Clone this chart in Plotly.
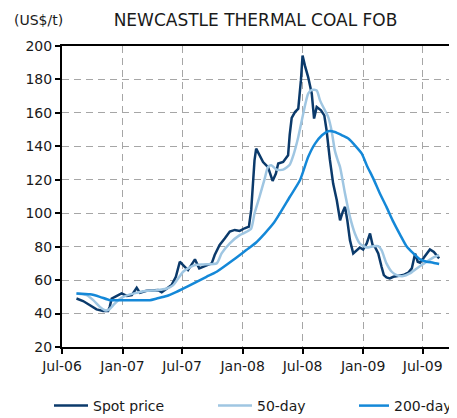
import plotly.graph_objects as go

# values (US$/t)
spot_dates = ['2006-08-14', '2006-09-03', '2006-09-24', '2006-10-14', '2006-11-03', '2006-11-18',
              '2006-11-23', '2006-11-29', '2006-12-09', '2006-12-29', '2007-01-14', '2007-01-29',
              '2007-02-13', '2007-02-23', '2007-03-15', '2007-04-04', '2007-04-19', '2007-04-30',
              '2007-05-15', '2007-05-30', '2007-06-12', '2007-06-24', '2007-07-04', '2007-07-19',
              '2007-08-09', '2007-08-22', '2007-09-08', '2007-09-29', '2007-10-08', '2007-10-23',
              '2007-11-08', '2007-11-23', '2007-12-08', '2007-12-23', '2008-01-07', '2008-01-20',
              '2008-01-27', '2008-02-06', '2008-02-11', '2008-02-21', '2008-03-03', '2008-03-18',
              '2008-04-01', '2008-04-11', '2008-04-18', '2008-05-03', '2008-05-18', '2008-05-23',
              '2008-05-29', '2008-06-08', '2008-06-18', '2008-06-26', '2008-07-01', '2008-07-08',
              '2008-07-18', '2008-07-29', '2008-08-05', '2008-08-13', '2008-08-26', '2008-09-05',
              '2008-09-12', '2008-09-22', '2008-10-02', '2008-10-13', '2008-10-23', '2008-10-31',
              '2008-11-07', '2008-11-14', '2008-11-22', '2008-12-02', '2008-12-12', '2008-12-22',
              '2009-01-01', '2009-01-12', '2009-01-22', '2009-01-30', '2009-02-06', '2009-02-16',
              '2009-02-26', '2009-03-05', '2009-03-13', '2009-03-23', '2009-04-03', '2009-04-18',
              '2009-05-03', '2009-05-18', '2009-05-29', '2009-06-08', '2009-06-16', '2009-06-23',
              '2009-07-03', '2009-07-13', '2009-07-23', '2009-08-04', '2009-08-13', '2009-08-20']
spot_price = [49, 47.5, 45, 42.5, 41.5, 41.5,
              44, 49, 50, 52, 50.5, 51,
              55.4, 52.4, 53.6, 54, 54, 52.7,
              55, 57, 62, 71, 69, 66,
              72.4, 67, 68.4, 70, 75, 81,
              85, 89, 90, 89.4, 91, 92,
              102, 131.6, 138.6, 134.6, 130.6, 127.6,
              119.3, 123.7, 129.7, 130.6, 134.6, 147,
              157, 160.5, 162.5, 179.4, 194.3, 188.4,
              181.4, 171.5, 156.6, 163.5, 161.5, 158.5,
              149.6, 132, 117.7, 107.8, 95.8, 100.8,
              103.8, 95.8, 83.9, 75.9, 77.9, 79.5,
              78.3, 81.9, 87.9, 80.9, 79.9, 75.9,
              68, 63, 61.6, 61, 62, 62.4,
              63, 64.4, 67, 75.9, 71, 70.4,
              73, 75.9, 78.3, 76.9, 74.9, 73]

ma50_dates = ['2006-08-14', '2006-09-14', '2006-10-04', '2006-10-24', '2006-11-08', '2006-11-18',
              '2006-12-04', '2006-12-19', '2007-01-03', '2007-01-24', '2007-02-13', '2007-03-15',
              '2007-04-15', '2007-05-15', '2007-06-04', '2007-06-19', '2007-07-04', '2007-07-19',
              '2007-08-09', '2007-09-03', '2007-10-14', '2007-10-29', '2007-11-23', '2007-12-23',
              '2008-01-12', '2008-01-27', '2008-02-06', '2008-02-21', '2008-03-08', '2008-03-18',
              '2008-03-28', '2008-04-13', '2008-05-03', '2008-05-23', '2008-06-03', '2008-06-18',
              '2008-07-03', '2008-07-18', '2008-07-29', '2008-08-13', '2008-08-23', '2008-09-07',
              '2008-09-17', '2008-09-27', '2008-10-07', '2008-10-16', '2008-10-23', '2008-11-07',
              '2008-11-22', '2008-12-07', '2008-12-22', '2009-01-12', '2009-02-01', '2009-02-16',
              '2009-02-26', '2009-03-13', '2009-03-29', '2009-04-13', '2009-05-03', '2009-05-23',
              '2009-06-13', '2009-06-28', '2009-07-13', '2009-08-02', '2009-08-20']
ma50_values = [52, 51, 48, 44, 42, 42,
               45, 48, 50, 51.5, 52.4, 53.6,
               54, 55, 57, 61, 65, 67,
               69, 69.4, 70, 76, 82, 86.9,
               88.8, 90.9, 99.8, 109.7, 120.7, 127.6,
               128.7, 126.1, 126.1, 129, 134.6, 145.6,
               159.5, 171.5, 173.8, 173.4, 167.5, 161.5,
               157.5, 149.6, 137.6, 131.6, 127.6, 111.8,
               97.8, 87.9, 81.9, 79.5, 80.3, 80.3,
               77.9, 70, 65, 63, 62.4, 64,
               67, 69, 71, 73.5, 74.9]

ma200_dates = ['2006-08-14', '2006-09-24', '2006-10-24', '2006-11-24', '2006-12-24', '2007-02-13',
               '2007-03-25', '2007-04-15', '2007-05-15', '2007-06-14', '2007-07-15', '2007-08-14',
               '2007-09-13', '2007-10-14', '2007-12-03', '2008-01-12', '2008-02-11', '2008-04-03',
               '2008-05-23', '2008-06-23', '2008-07-18', '2008-08-08', '2008-08-29', '2008-09-17',
               '2008-10-07', '2008-10-29', '2008-11-18', '2008-12-07', '2008-12-28', '2009-01-12',
               '2009-02-01', '2009-02-21', '2009-03-13', '2009-04-03', '2009-04-24', '2009-05-14',
               '2009-06-03', '2009-06-23', '2009-07-13', '2009-08-02', '2009-08-20']
ma200_values = [52, 51.5, 50, 48, 48, 48,
                48, 49, 50.5, 53, 56, 59,
                62, 65, 72, 78, 82.5, 93.8,
                109.7, 119.7, 133.6, 141.6, 146.6, 149,
                148.6, 146.6, 144.6, 140.6, 135.6, 128.7,
                120.7, 111.8, 103.8, 94.8, 86.9, 79.9,
                75.9, 72.4, 71, 70.4, 69.6]

tick_dates = ['2006-07-01', '2007-01-01', '2007-07-01', '2008-01-01', '2008-07-01', '2009-01-01', '2009-07-01']
tick_labels = ['Jul-06', 'Jan-07', 'Jul-07', 'Jan-08', 'Jul-08', 'Jan-09', 'Jul-09']

font = 'DejaVu Sans'
text_color = '#1a1a1a'

# the page body has an 8px margin, so the figure is drawn 8px smaller
W, H = 449, 410

fig = go.Figure()
fig.add_trace(go.Scatter(x=spot_dates, y=spot_price, name='Spot price', mode='lines',
                         line=dict(color='#0b3a6b', width=2.5), legend='legend'))
fig.add_trace(go.Scatter(x=ma50_dates, y=ma50_values, name='50-day', mode='lines',
                         line=dict(color='#9fc6e2', width=2.5, shape='spline', smoothing=0.6),
                         legend='legend2'))
fig.add_trace(go.Scatter(x=ma200_dates, y=ma200_values, name='200-day', mode='lines',
                         line=dict(color='#1488d8', width=2.5, shape='spline', smoothing=0.6),
                         legend='legend3'))

# one legend per entry so each can sit where the reference has it
legend_style = dict(orientation='h', xref='container', yref='container', yanchor='middle',
                    y=1 - 398 / H, xanchor='left', borderwidth=0,
                    font=dict(family=font, size=14, color=text_color), bgcolor='rgba(0,0,0,0)')

fig.update_layout(
    width=W, height=H,
    margin=dict(l=54, r=8, t=38, b=71, autoexpand=False),
    paper_bgcolor='white', plot_bgcolor='white',
    showlegend=True,
    font=dict(family=font, size=14, color=text_color),
    title=dict(text='NEWCASTLE THERMAL COAL FOB', font=dict(family=font, size=17, color=text_color),
               xref='paper', x=0.5, xanchor='center', yref='container', y=1 - 12 / H, yanchor='middle'),
    legend=dict(legend_style, x=41 / W, itemwidth=34),
    legend2=dict(legend_style, x=205 / W, itemwidth=34),
    legend3=dict(legend_style, x=346 / W),
    annotations=[dict(text='(US$/t)', xref='paper', yref='paper', x=(12 - 62) / 387, y=1 + 26 / 301,
                      xanchor='left', yanchor='middle', showarrow=False,
                      font=dict(family=font, size=14, color=text_color))],
)
fig.update_xaxes(
    type='date', range=['2006-07-01', '2009-09-19'],
    tickmode='array', tickvals=tick_dates, ticktext=tick_labels,
    ticks='outside', ticklen=5, tickwidth=1.5, tickcolor='black',
    showline=True, linecolor='black', linewidth=2, mirror=True,
    showgrid=True, gridcolor='#a6a6a6', gridwidth=1, griddash='7px,5px',
    zeroline=False, tickfont=dict(family=font, size=14, color=text_color),
)
fig.update_yaxes(
    range=[20, 200], dtick=20, tick0=20,
    ticks='outside', ticklen=5, tickwidth=1.5, tickcolor='black',
    showline=True, linecolor='black', linewidth=2, mirror=True,
    showgrid=True, gridcolor='#a6a6a6', gridwidth=1, griddash='7px,5px',
    zeroline=False, tickfont=dict(family=font, size=14, color=text_color),
)

fig.write_html("out.html")
